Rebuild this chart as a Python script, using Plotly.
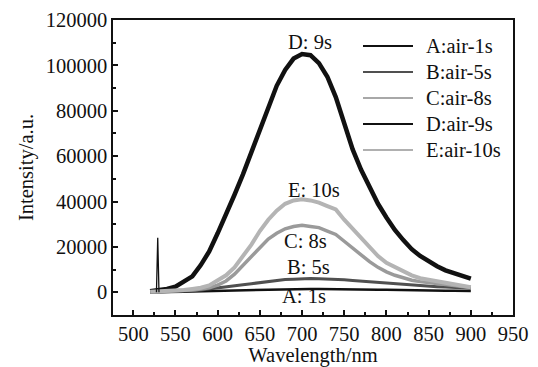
import plotly.graph_objects as go

# ---- data ----
wl = [520, 530, 540, 550, 560, 570, 580, 590, 600, 610, 620, 630, 640, 650, 660, 670, 680, 690, 700,
      710, 720, 730, 740, 750, 760, 770, 780, 790, 800, 810, 820, 830, 840, 850, 860, 870, 880, 890, 900]

A_val = [0, 0, 100, 200, 300, 400, 500, 600, 700, 800, 900, 1000, 1100, 1200, 1300, 1400,
         1500, 1500, 1500, 1500, 1500, 1400, 1400, 1300, 1300, 1200, 1200, 1100, 1100, 1000, 1000, 900, 900,
         800, 800, 700, 700, 600, 600]

# narrow excitation spike near 529 nm
spike_wl = [527.5, 529, 530.5]
spike_val = [0, 24000, 0]

B_val = [0, 100, 200, 300, 500, 700, 1000, 1400, 1800, 2300, 2800, 3300, 3800, 4300, 4800, 5200, 5600, 5800,
         6000, 6100, 6000, 5900, 5700, 5500, 5200, 4900, 4600, 4300, 4000, 3700, 3400, 3100, 2900, 2700, 2500,
         2300, 2100, 1900, 1800]

C_val = [200, 300, 400, 500, 700, 1000, 1500, 2000, 3200, 5000, 8000, 12000, 16000, 20000, 23500, 26000,
         28000, 29000, 29500, 29000, 28500, 27000, 25500, 22500, 19500, 16500, 13500, 11000, 9000, 7500, 6200,
         5300, 4700, 4200, 3800, 3300, 2900, 2500, 2200]

D_val = [500, 800, 1500, 2500, 4500, 7000, 12000, 18000, 26000, 34000, 43000, 52000, 62000, 72000, 82000,
         91000, 98000, 103000, 105000, 104500, 101000, 95000, 86000, 75000, 63000, 54000, 46000, 39000, 33000,
         27500, 23000, 19000, 16000, 13500, 11500, 9700, 8300, 7000, 6000]

E_val = [300, 400, 500, 700, 1000, 1500, 2000, 3000, 5000, 7500, 11000, 16000, 21000, 27000, 32000, 36000,
         39000, 40500, 41000, 40500, 39500, 38000, 36500, 32000, 28000, 23500, 19500, 16000, 13000, 11000, 9000,
         7500, 6200, 5500, 5000, 4000, 3200, 2600, 2200]

series_names = ["A:air-1s", "B:air-5s", "C:air-8s", "D:air-9s", "E:air-10s"]

label_text = ["D: 9s", "E: 10s", "C: 8s", "B: 5s", "A: 1s"]
label_x = [709, 714, 704, 708, 702]
label_y = [110300, 45000, 22500, 11000, -1800]

FONT = "Liberation Serif, Times New Roman, serif"
FS = 20.5
W, H = 538, 367
L, R, T, B = 113, 25, 20, 52

fig = go.Figure()
styles = [
    (A_val, "#111111", 2.5, "#111111"),
    (B_val, "#505050", 3, "#505050"),
    (C_val, "#9a9a9a", 3.5, "#a8a8a8"),
    (D_val, "#111111", 4.5, "#111111"),
    (E_val, "#b4b4b4", 4, "#b0b0b0"),
]
for name, (y, col, w, lcol) in zip(series_names, styles):
    fig.add_trace(go.Scatter(x=wl, y=y, mode="lines", name=name, legendgroup=name,
                             showlegend=False, line=dict(color=col, width=w)))
fig.add_trace(go.Scatter(x=spike_wl, y=spike_val, mode="lines", name=series_names[0],
                         legendgroup=series_names[0], showlegend=False,
                         line=dict(color="#111111", width=1.3)))

for t, x, y in zip(label_text, label_x, label_y):
    fig.add_annotation(x=x, y=y, text=t, showarrow=False,
                       font=dict(family=FONT, size=FS, color="#111"))

# legend drawn as line samples + text (positions in pixels of the plot area)
pw, ph = W - L - R, H - T - B
leg_rows = [46, 72, 98, 124, 150]
for name, (y, col, w, lcol), py in zip(series_names, styles, leg_rows):
    yp = (T + ph - py) / ph
    fig.add_shape(type="line", xref="paper", yref="paper",
                  x0=(363 - L) / pw, x1=(413 - L) / pw, y0=yp, y1=yp,
                  line=dict(color=lcol, width=2))
    fig.add_annotation(xref="paper", yref="paper", x=(424 - L) / pw, y=yp,
                       xanchor="left", yanchor="middle", text=name, showarrow=False,
                       font=dict(family=FONT, size=FS, color="#111"))

fig.update_layout(
    width=W, height=H,
    margin=dict(l=L, r=R, t=T, b=B, autoexpand=False),
    paper_bgcolor="white", plot_bgcolor="white",
    font=dict(family=FONT, size=FS, color="#111"),
    showlegend=False,
)
fig.update_xaxes(
    range=[476, 950], tickmode="linear", tick0=500, dtick=50,
    ticks="inside", ticklen=5, tickwidth=1.5, tickcolor="#111",
    minor=dict(ticks="inside", ticklen=3, dtick=25, tick0=500, tickcolor="#111"),
    showline=True, linecolor="#111", linewidth=1.5, mirror=True,
    showgrid=False, zeroline=False, automargin=False,
    title=dict(text="Wavelength/nm", standoff=0, font=dict(size=FS)),
)
fig.update_yaxes(
    range=[-10000, 120000], tickmode="linear", tick0=0, dtick=20000, tickformat="d",
    ticks="inside", ticklen=5, tickwidth=1.5, tickcolor="#111",
    minor=dict(ticks="inside", ticklen=3, dtick=10000, tick0=0, tickcolor="#111"),
    showline=True, linecolor="#111", linewidth=1.5, mirror=True,
    showgrid=False, zeroline=False, automargin=False,
    title=dict(text="Intensity/a.u.", standoff=6, font=dict(size=FS)),
)
fig.write_html("out.html", config={"displayModeBar": False},
               post_script="document.body.style.margin='0';")
